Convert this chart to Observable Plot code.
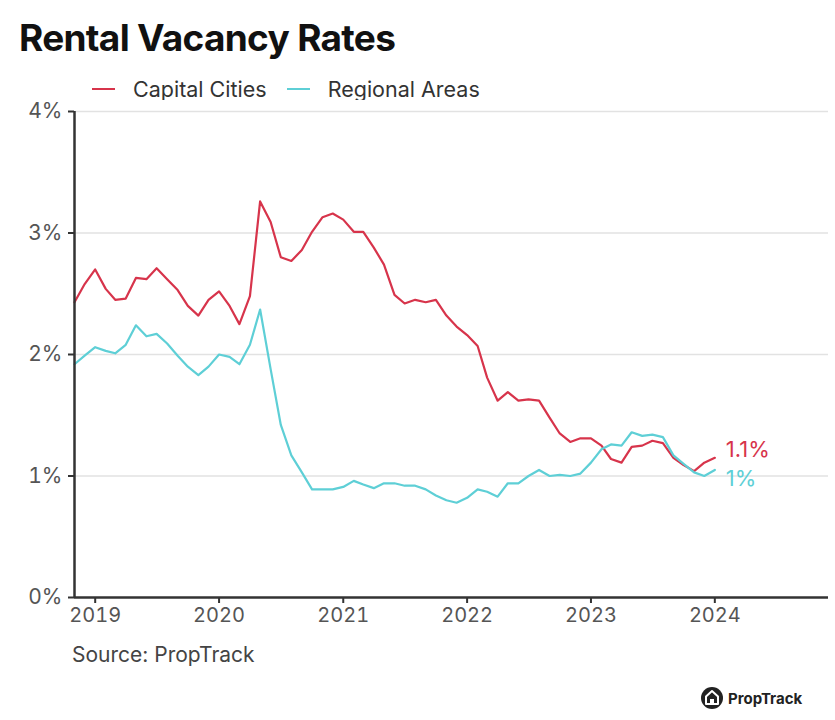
<!DOCTYPE html>
<html><head><meta charset="utf-8">
<script src="https://cdn.jsdelivr.net/npm/d3@7"></script>
<script src="https://cdn.jsdelivr.net/npm/@observablehq/plot@0.6"></script>
<style>
body{margin:0;background:#fff;font-family:Inter,"Noto Sans",sans-serif;}
#wrap{position:relative;width:835px;height:720px;overflow:hidden;background:#fff;}
#title{position:absolute;left:19px;top:16px;font-size:37px;font-weight:700;color:#111;letter-spacing:-0.7px;line-height:44px;}
#legend{position:absolute;left:92px;top:75px;font-size:21.5px;color:#333;display:flex;align-items:center;line-height:28px;}
.sw{display:inline-block;width:23px;height:2.5px;margin-right:18px;}
.item{display:flex;align-items:center;margin-right:20px;}
#chart{position:absolute;left:0;top:100px;}
#source{position:absolute;left:72px;top:641px;font-size:21px;color:#444;line-height:28px;}
#logo{position:absolute;left:700px;top:686px;display:flex;align-items:center;font-weight:700;font-size:15px;color:#222;}
</style></head><body>
<div id="wrap">
  <div id="title">Rental Vacancy Rates</div>
  <div id="legend"></div>
  <div id="chart"></div>
  <div id="source">Source: PropTrack</div>
  <div id="logo"><svg width="24" height="24" viewBox="0 0 24 24" style="margin-right:4px"><circle cx="12" cy="12" r="11" fill="#222"/><path d="M12 5 L18 10.5 L18 18 L6 18 L6 10.5 Z" fill="none" stroke="#fff" stroke-width="2" stroke-linejoin="round"/><rect x="10" y="13" width="4" height="5" fill="#fff"/></svg>PropTrack</div>
</div>
<script>
const seriesNames = ["Capital Cities", "Regional Areas"];
const seriesColors = ["#d7344b", "#5ecfd6"];
const endLabels = ["1.1%", "1%"];
const startMonth = new Date(Date.UTC(2018, 10, 1));
const endMonth = new Date(Date.UTC(2024, 0, 1));
const xDomain = [new Date(Date.UTC(2018, 10, 1)), new Date(Date.UTC(2024, 11, 1))];
const yTicks = [0, 1, 2, 3, 4];
const yearTicks = [2019, 2020, 2021, 2022, 2023, 2024];

const capital = [2.43,2.58,2.70,2.54,2.45,2.46,2.63,2.62,2.71,2.62,
  2.53,2.40,2.32,2.45,2.52,2.40,2.25,2.48,3.26,3.09,
  2.80,2.77,2.86,3.01,3.13,3.16,3.11,3.01,3.01,2.88,
  2.74,2.49,2.42,2.45,2.43,2.45,2.32,2.23,2.16,2.07,
  1.81,1.62,1.69,1.62,1.63,1.62,1.48,1.35,1.28,1.31,
  1.31,1.25,1.14,1.11,1.24,1.25,1.29,1.27,1.15,1.09,
  1.04,1.11,1.15];
const regional = [1.92,1.99,2.06,2.03,2.01,2.08,2.24,2.15,2.17,2.09,
  1.99,1.90,1.83,1.90,2.00,1.98,1.92,2.08,2.37,1.88,
  1.42,1.17,1.03,0.89,0.89,0.89,0.91,0.96,0.93,0.90,
  0.94,0.94,0.92,0.92,0.89,0.84,0.80,0.78,0.82,0.89,
  0.87,0.83,0.94,0.94,1.00,1.05,1.00,1.01,1.00,1.02,
  1.11,1.22,1.26,1.25,1.36,1.33,1.34,1.32,1.17,1.10,
  1.03,1.00,1.05];

const months = d3.utcMonth.range(startMonth, d3.utcMonth.offset(endMonth, 1));
const seriesValues = [capital, regional];
const data = [];
seriesValues.forEach((vals, s) => vals.forEach((v, i) => data.push({date: months[i], value: v, series: seriesNames[s]})));
const lastPts = seriesValues.map((vals, s) => ({date: months[vals.length - 1], value: vals[vals.length - 1], series: seriesNames[s], label: endLabels[s]}));

const leg = document.getElementById("legend");
seriesNames.forEach((n, i) => {
  const it = document.createElement("div"); it.className = "item";
  it.innerHTML = `<span class="sw" style="background:${seriesColors[i]}"></span><span>${n}</span>`;
  leg.appendChild(it);
});

const plot = Plot.plot({
  width: 835, height: 537,
  marginTop: 11, marginLeft: 74, marginRight: 7, marginBottom: 40,
  style: {fontFamily: "Inter, 'Noto Sans', sans-serif", background: "#fff", overflow: "visible"},
  x: {type: "utc", domain: xDomain, label: null},
  y: {domain: [0, 4], label: null},
  color: {domain: seriesNames, range: seriesColors},
  marks: [
    Plot.gridY([1, 2, 3, 4], {stroke: "#e2e2e2", strokeOpacity: 1, strokeWidth: 1.5}),
    Plot.line(data, {x: "date", y: "value", z: "series", stroke: "series", strokeWidth: 2.2}),
    Plot.axisY({ticks: yTicks, tickFormat: d => d + "%", tickSize: 6, tickPadding: 6, stroke: "#333", strokeWidth: 2, fill: "#555", fontSize: 21, label: null}),
    Plot.axisX({ticks: yearTicks.map(y => new Date(Date.UTC(y, 0, 1))), tickFormat: d3.utcFormat("%Y"), tickSize: 6, tickPadding: 4, stroke: "#333", strokeWidth: 2, fill: "#555", fontSize: 20, label: null}),
    Plot.ruleX([xDomain[0]], {stroke: "#333", strokeWidth: 2.5}),
    Plot.ruleY([0], {stroke: "#333", strokeWidth: 2.5}),
    Plot.text([lastPts[0]], {x: "date", y: "value", text: "label", fill: "series", dx: 11, dy: -8, textAnchor: "start", fontSize: 22}),
    Plot.text([lastPts[1]], {x: "date", y: "value", text: "label", fill: "series", dx: 11, dy: 9, textAnchor: "start", fontSize: 22}),
  ]
});
document.getElementById("chart").appendChild(plot);
</script>
</body></html>
